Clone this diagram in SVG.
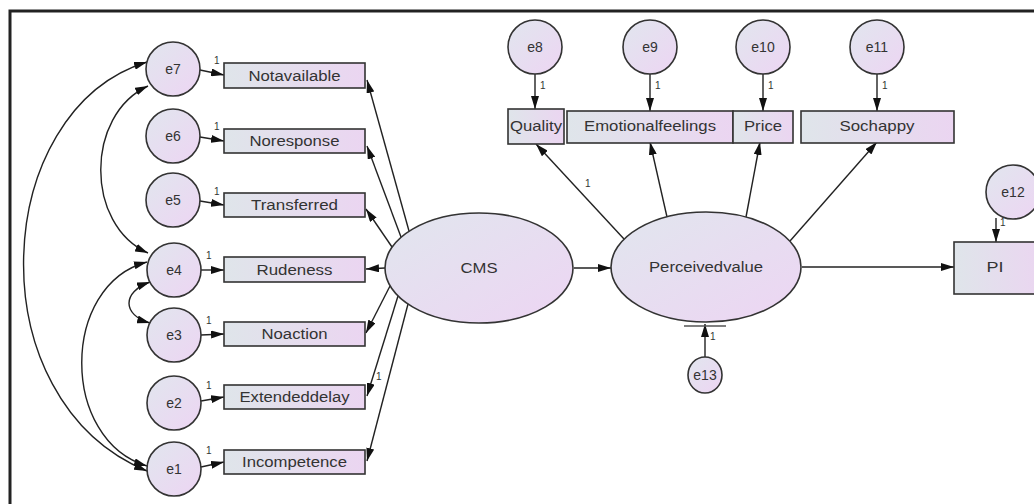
<svg xmlns="http://www.w3.org/2000/svg" width="1034" height="504" viewBox="0 0 1034 504">
<defs>
<linearGradient id="gBox" x1="0" y1="0" x2="1" y2="0">
<stop offset="0" stop-color="#dfe5ea"/>
<stop offset="1" stop-color="#ebd5f1"/>
</linearGradient>
<linearGradient id="gEll" x1="0" y1="0" x2="1" y2="1">
<stop offset="0" stop-color="#e1e6ee"/>
<stop offset="1" stop-color="#edd5f3"/>
</linearGradient>
<marker id="ah" viewBox="0 0 13 8" refX="13" refY="4" markerWidth="13" markerHeight="8" markerUnits="userSpaceOnUse" orient="auto-start-reverse">
<path d="M0,0 L13,4 L0,8 z" fill="#111"/>
</marker>
<style>
.box{fill:url(#gBox);stroke:#333;stroke-width:1.6}
.ell{fill:url(#gEll);stroke:#333;stroke-width:1.6}
.err{fill:url(#gEll);stroke:#333;stroke-width:1.6}
.t{font-family:"Liberation Sans",Arial,sans-serif;font-size:14px;fill:#333;text-anchor:middle}
.one{font-family:"Liberation Sans",Arial,sans-serif;font-size:10px;fill:#333}
.c{fill:none;stroke:#222;stroke-width:1.4;marker-end:url(#ah)}
.cc{fill:none;stroke:#222;stroke-width:1.4;marker-start:url(#ah);marker-end:url(#ah)}
</style>
</defs>
<rect x="0" y="0" width="1034" height="504" fill="#fff"/>
<rect x="10" y="11" width="1100" height="600" fill="none" stroke="#222" stroke-width="3"/>

<g id="connectors">
<!-- covariances -->
<path class="cc" d="M147,62 C-10,110 -25,400 147,471"/>
<path class="cc" d="M148,86 C85,115 85,225 148,253"/>
<path class="cc" d="M147,262 C60,285 60,440 147,466"/>
<path class="cc" d="M150,282 C122,292 122,315 150,323"/>
<!-- error to left indicators -->
<path class="c" d="M200,70 L224,75"/>
<path class="c" d="M200,137 L224,141"/>
<path class="c" d="M200,201 L224,205"/>
<path class="c" d="M201,270 L224,270"/>
<path class="c" d="M201,335 L224,334"/>
<path class="c" d="M201,401 L224,397"/>
<path class="c" d="M201,467 L224,462"/>
<!-- CMS loadings -->
<path class="c" d="M409,231 L367,80"/>
<path class="c" d="M401,237 L367,146"/>
<path class="c" d="M392,247 L366,209"/>
<path class="c" d="M385,268 L366,269"/>
<path class="c" d="M390,286 L366,333"/>
<path class="c" d="M398,296 L367,396"/>
<path class="c" d="M408,304 L367,461"/>
<!-- structural -->
<path class="c" d="M574,268 L611,268"/>
<path class="c" d="M802,267 L954,267"/>
<!-- PV loadings -->
<path class="c" d="M624,239 L536,144"/>
<path class="c" d="M667,217 L650,142"/>
<path class="c" d="M746,217 L760,142"/>
<path class="c" d="M790,241 L877,142"/>
<!-- top errors -->
<path class="c" d="M535,74 L535,109"/>
<path class="c" d="M650,74 L650,111"/>
<path class="c" d="M763,74 L763,111"/>
<path class="c" d="M877,74 L877,111"/>
<!-- e12, e13 -->
<path class="c" d="M996,218 L996,242"/>
<path class="c" d="M705,357 L705,324"/>
<line x1="684" y1="326" x2="726" y2="326" stroke="#555" stroke-width="1.4"/>
</g>

<g id="labels-one">
<text class="one" x="214" y="64">1</text>
<text class="one" x="214" y="130">1</text>
<text class="one" x="214" y="195">1</text>
<text class="one" x="206" y="259">1</text>
<text class="one" x="206" y="324">1</text>
<text class="one" x="206" y="389">1</text>
<text class="one" x="206" y="454">1</text>
<text class="one" x="376" y="380">1</text>
<text class="one" x="540" y="89">1</text>
<text class="one" x="655" y="89">1</text>
<text class="one" x="768" y="89">1</text>
<text class="one" x="882" y="89">1</text>
<text class="one" x="585" y="187">1</text>
<text class="one" x="1000" y="226">1</text>
<text class="one" x="710" y="340">1</text>
</g>

<g id="e7"><circle class="err" cx="173" cy="69" r="27"/><text class="t" x="173" y="74">e7</text></g>
<g id="e6"><circle class="err" cx="173" cy="136" r="27"/><text class="t" x="173" y="141">e6</text></g>
<g id="e5"><circle class="err" cx="173" cy="200" r="27"/><text class="t" x="173" y="205">e5</text></g>
<g id="e4"><circle class="err" cx="174" cy="270" r="27"/><text class="t" x="174" y="275">e4</text></g>
<g id="e3"><circle class="err" cx="174" cy="335" r="27"/><text class="t" x="174" y="340">e3</text></g>
<g id="e2"><circle class="err" cx="174" cy="403" r="27"/><text class="t" x="174" y="408">e2</text></g>
<g id="e1"><circle class="err" cx="174" cy="469" r="27"/><text class="t" x="174" y="474">e1</text></g>

<g id="Notavailable"><rect class="box" x="224" y="63" width="141" height="25"/><text class="t" x="294.5" y="80.5" textLength="92" lengthAdjust="spacingAndGlyphs">Notavailable</text></g>
<g id="Noresponse"><rect class="box" x="224" y="129" width="141" height="24"/><text class="t" x="294.5" y="146" textLength="90" lengthAdjust="spacingAndGlyphs">Noresponse</text></g>
<g id="Transferred"><rect class="box" x="224" y="193" width="141" height="24"/><text class="t" x="294.5" y="210" textLength="87" lengthAdjust="spacingAndGlyphs">Transferred</text></g>
<g id="Rudeness"><rect class="box" x="224" y="257" width="141" height="25"/><text class="t" x="294.5" y="274.5" textLength="76" lengthAdjust="spacingAndGlyphs">Rudeness</text></g>
<g id="Noaction"><rect class="box" x="224" y="322" width="141" height="24"/><text class="t" x="294.5" y="339" textLength="66" lengthAdjust="spacingAndGlyphs">Noaction</text></g>
<g id="Extendeddelay"><rect class="box" x="224" y="385" width="141" height="24"/><text class="t" x="294.5" y="402" textLength="110" lengthAdjust="spacingAndGlyphs">Extendeddelay</text></g>
<g id="Incompetence"><rect class="box" x="224" y="450" width="141" height="24"/><text class="t" x="294.5" y="467" textLength="105" lengthAdjust="spacingAndGlyphs">Incompetence</text></g>

<g id="CMS"><ellipse class="ell" cx="479" cy="268" rx="94" ry="55"/><text class="t" x="479" y="273" textLength="37" lengthAdjust="spacingAndGlyphs">CMS</text></g>
<g id="Perceivedvalue"><ellipse class="ell" cx="706" cy="267" rx="95" ry="55"/><text class="t" x="706" y="272" textLength="114" lengthAdjust="spacingAndGlyphs">Perceivedvalue</text></g>

<g id="e8"><circle class="err" cx="535" cy="47" r="27"/><text class="t" x="535" y="52">e8</text></g>
<g id="e9"><circle class="err" cx="650" cy="47" r="27"/><text class="t" x="650" y="52">e9</text></g>
<g id="e10"><circle class="err" cx="763" cy="47" r="27"/><text class="t" x="763" y="52">e10</text></g>
<g id="e11"><circle class="err" cx="877" cy="47" r="27"/><text class="t" x="877" y="52">e11</text></g>

<g id="Quality"><rect class="box" x="508" y="109" width="56" height="35" stroke-width="2.2"/><text class="t" x="536" y="131" textLength="52" lengthAdjust="spacingAndGlyphs">Quality</text></g>
<g id="Emotionalfeelings"><rect class="box" x="567" y="111" width="166" height="32"/><text class="t" x="650" y="131" textLength="132" lengthAdjust="spacingAndGlyphs">Emotionalfeelings</text></g>
<g id="Price"><rect class="box" x="733" y="111" width="60" height="32"/><text class="t" x="763" y="131" textLength="38" lengthAdjust="spacingAndGlyphs">Price</text></g>
<g id="Sochappy"><rect class="box" x="801" y="111" width="153" height="32"/><text class="t" x="877" y="131" textLength="75" lengthAdjust="spacingAndGlyphs">Sochappy</text></g>

<g id="e12"><circle class="err" cx="1013" cy="192" r="27"/><text class="t" x="1013" y="197">e12</text></g>
<g id="PI"><rect class="box" x="954" y="242" width="90" height="52"/><text class="t" x="995" y="272" textLength="17" lengthAdjust="spacingAndGlyphs">PI</text></g>
<g id="e13"><ellipse class="err" cx="705" cy="375" rx="17" ry="18"/><text class="t" x="705" y="380" font-size="13">e13</text></g>
</svg>
